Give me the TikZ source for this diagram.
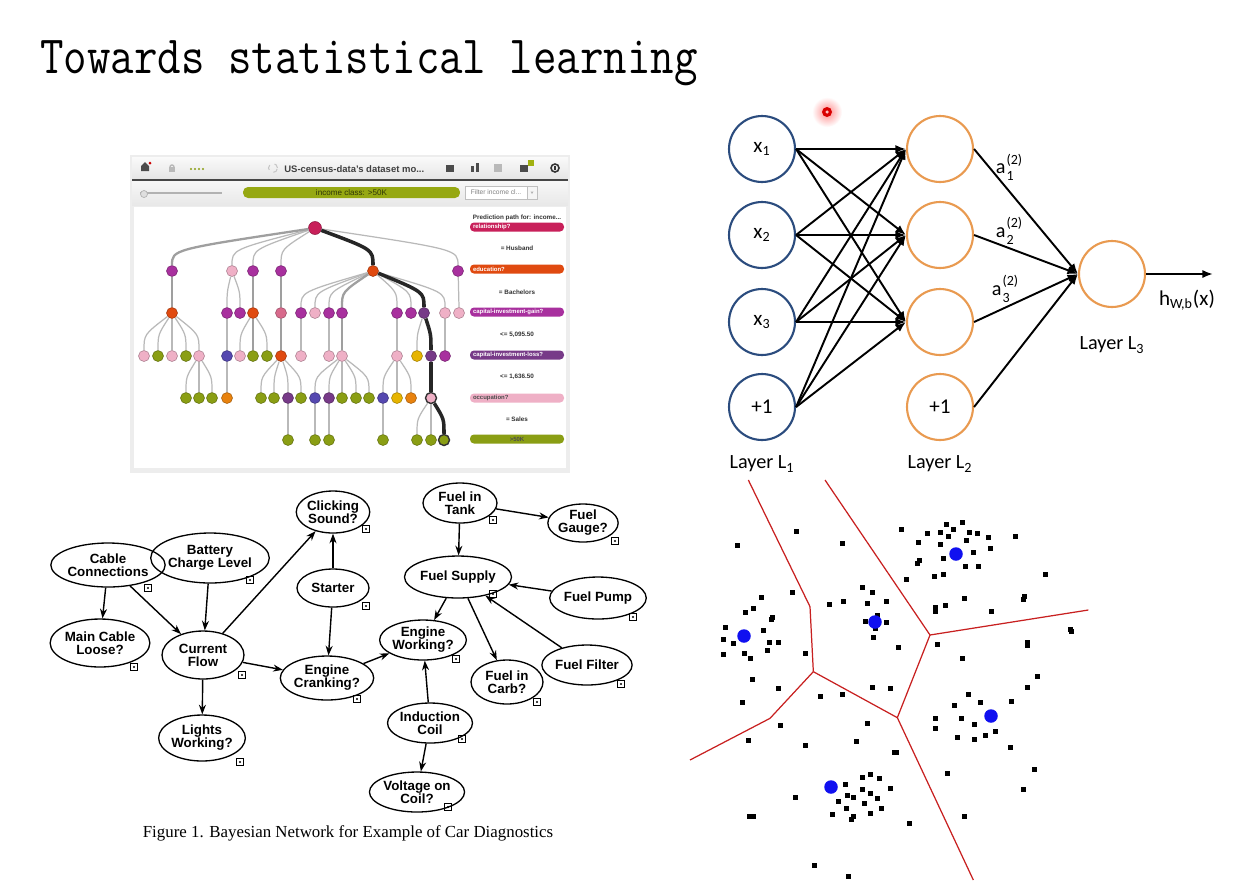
\documentclass[tikz,border=0pt]{standalone}
\usepackage{fontspec}
\setmainfont{Liberation Sans}
\newfontfamily\carl{Carlito}
\newfontfamily\capfont{Liberation Serif}
\usetikzlibrary{arrows.meta,shapes.geometric,calc}

% tree palette
\definecolor{tcrim}{HTML}{C8205A}
\definecolor{tpurp}{HTML}{A8309E}
\definecolor{tpink}{HTML}{EFB0C6}
\definecolor{torng}{HTML}{E04A10}
\definecolor{tolive}{HTML}{8A9E14}
\definecolor{tblue}{HTML}{5548B0}
\definecolor{tdpurp}{HTML}{773A88}
\definecolor{tyell}{HTML}{E6B400}
\definecolor{tamber}{HTML}{E8820E}
\definecolor{trose}{HTML}{D86A8C}
% network palette
\definecolor{nnblue}{HTML}{2B4C7E}
\definecolor{nnorange}{HTML}{E99A50}
% clustering palette
\definecolor{vred}{HTML}{C82020}
\definecolor{vblue}{HTML}{1010F0}

% curved tree branch: leaves the parent, enters the child from above
\newcommand\tedge[3][tline]{\draw[#1] (#2) .. controls ($(#2 -| #3)!0.5!(#3)$) .. (#3);}
% activation label a with stacked (2) and layer index
\newcommand\actlab[1]{a\kern0.6pt\raisebox{-3.6pt}{\fontsize{8}{8}\selectfont\shortstack[l]{(2)\\#1}}}

\begin{document}
\begin{tikzpicture}[x=0.02cm,y=-0.02cm,
  tn/.style={circle, minimum size=0.22cm, inner sep=0pt, fill=#1, draw=#1!70!black, line width=0.3pt},
  tline/.style={draw=gray!55, line width=0.7pt},
  tthick/.style={draw=gray!75, line width=1.3pt},
  tpath/.style={draw=black!85, line width=2pt},
  pill/.style={rectangle, rounded corners=0.08cm, minimum width=1.88cm, minimum height=0.18cm,
    inner sep=0pt, fill=#1, text=white, font=\fontsize{3.4}{3.4}\selectfont\bfseries,
    text width=1.76cm, align=left},
  legtxt/.style={font=\fontsize{3.6}{3.6}\selectfont\bfseries, text=black!80, inner sep=0pt},
  l1node/.style={circle, draw=nnblue, line width=1.2pt, fill=white, minimum size=1.32cm, inner sep=0pt,
    font=\carl\fontsize{12}{12}\selectfont},
  l2node/.style={circle, draw=nnorange, line width=1.2pt, fill=white, minimum size=1.32cm, inner sep=0pt,
    font=\carl\fontsize{12}{12}\selectfont},
  nnlab/.style={font=\carl\fontsize{11.5}{11.5}\selectfont, inner sep=0pt},
  nnarr/.style={line width=1.1pt, -{Latex[length=6pt,width=4.6pt]}},
  bn/.style 2 args={ellipse, draw, line width=0.75pt, minimum width=#1*0.04cm, minimum height=#2*0.04cm,
    inner sep=0pt, align=center, font=\fontsize{7.6}{7.4}\selectfont\bfseries},
  bnbox/.style={rectangle, draw, line width=0.4pt, minimum size=0.13cm, inner sep=0pt,
    path picture={\fill (path picture bounding box.center) circle[radius=0.022cm];}},
  bnarr/.style={line width=0.8pt, -{Stealth[length=5.5pt,width=4pt]}}
]
\useasboundingbox (0,0) rectangle (1260,880);
\fill[white] (0,0) rectangle (1260,880);

% ---------- title ----------
\node[anchor=base west, inner sep=0pt] (title) at (40,73)
  {\scalebox{0.848}[1]{\ttfamily\fontsize{30.6}{32}\selectfont Towards statistical learning}};

% ---------- decision tree viewer ----------
\fill[gray!14] (130,155) rectangle (570,473);
\shade[top color=gray!4, bottom color=gray!20] (132,157) rectangle (568,179);
\draw[gray!55!black, line width=1pt] (132,180) -- (568,180);
\shade[top color=gray!6, bottom color=gray!18] (132,181) rectangle (568,205);
\fill[white] (134,207) rectangle (566,468);
% toolbar glyphs
\fill[gray!60!black] (141,171) -- (141,166) -- (145,162) -- (149,166) -- (149,171) -- cycle;
\fill[red!80!black] (150,163) circle[radius=0.03cm];
\draw[gray!55, line width=0.8pt] (170,167) arc[start angle=180, end angle=0, radius=0.04cm];
\fill[gray!55] (169,167) rectangle (175,172);
\foreach \x in {191,195,199,203} \fill[tolive] (\x,169) circle[radius=0.022cm];
\draw[gray!45, dashed, line width=0.6pt] (273,168) circle[radius=0.09cm];
\node[anchor=west, inner sep=0pt, font=\fontsize{5.4}{5.4}\selectfont\bfseries, text=black!75] (vtitle) at (284,169) {US-census-data's dataset mo...};
\fill[gray!60!black] (446,165) rectangle (454,172);
\fill[gray!60!black] (471,166) rectangle (474,172); \fill[gray!60!black] (476,163) rectangle (479,172);
\fill[gray!55] (494,164) rectangle (502,172);
\fill[gray!60!black] (520,165) rectangle (528,172);
\fill[tolive!80!yellow] (528,160) rectangle (534,166);
\draw[black!80, line width=0.9pt] (555,168) circle[radius=0.08cm];
\fill[black!80] (554,166) rectangle (556,170);
% slider and filter bar
\draw[gray!60, line width=1.2pt] (140,193) -- (222,193);
\filldraw[fill=gray!25, draw=gray!60, line width=0.4pt] (144,194) circle[radius=0.07cm];
\node[rectangle, rounded corners=0.1cm, fill=tolive!90!yellow, minimum width=4.34cm, minimum height=0.22cm,
  inner sep=0pt, font=\fontsize{4.6}{4.6}\selectfont, text=tolive!35!black] (classbar) at (351.5,192.5) {income class: >50K};
\node[rectangle, draw=gray!50, fill=white, minimum width=1.24cm, minimum height=0.26cm, inner sep=0pt,
  font=\fontsize{3.8}{3.8}\selectfont, text=gray] (filter) at (496,192.5) {Filter income cl...};
\node[rectangle, draw=gray!50, fill=gray!8, minimum width=0.2cm, minimum height=0.26cm, inner sep=0pt] (filterbtn) at (532,192.5) {};
\fill[gray!60] (530.5,191.5) -- (533.5,191.5) -- (532,194) -- cycle;

% tree nodes by level
\node[tn=tcrim, minimum size=0.26cm] (root) at (315,228) {};
\foreach \n/\x/\c in {a1/172/tpurp, a2/232/tpink, a3/253/tpurp, a4/281/tpurp, a5/373/torng, a6/458/tpurp}
  \node[tn=\c] (\n) at (\x,271) {};
\foreach \n/\x/\c in {b1/172/torng, b2/227/tpurp, b3/240/tpurp, b4/253/torng, b5/281/trose, b6/301/tpurp,
  b7/315/tpink, b8/329/tpurp, b9/342/tpurp, b10/397/tpurp, b11/411/tpurp, b12/424/tdpurp, b13/445/tpink, b14/459/tpink}
  \node[tn=\c] (\n) at (\x,313) {};
\foreach \n/\x/\c in {c1/144/tpink, c2/158/tolive, c3/172/tpink, c4/186/tolive, c5/199/tpink, c6/227/tblue,
  c7/240/tpink, c8/253/tolive, c9/267/tolive, c10/281/torng, c11/301/tpink, c12/329/tpink, c13/342/tpink,
  c14/397/tpink, c15/417/tyell, c16/431/tdpurp, c17/445/tpurp}
  \node[tn=\c] (\n) at (\x,356) {};
\foreach \n/\x/\c in {d1/186/tolive, d2/199/tolive, d3/212/tolive, d4/227/tamber, d5/261/tolive, d6/274/tolive,
  d7/288/tdpurp, d8/301/tolive, d9/315/tblue, d10/329/tdpurp, d11/342/tolive, d12/356/tolive, d13/369/tolive,
  d14/383/tblue, d15/397/tyell, d16/411/tamber}
  \node[tn=\c] (\n) at (\x,398) {};
\node[tn=tpink, draw=black!80, line width=0.8pt] (d17) at (431,398) {};
\foreach \n/\x in {e1/288, e2/315, e3/329, e4/383, e5/417, e6/431}
  \node[tn=tolive] (\n) at (\x,440) {};
\node[tn=tolive, draw=black!80, line width=0.8pt] (e7) at (444,440) {};

% tree branches
\foreach \p/\c in {root/a2, root/a3, root/a4, root/a6,
  a2/b2, a2/b3, a5/b6, a5/b7, a5/b8, a5/b10, a5/b11, a5/b13, a6/b14,
  b1/c1, b1/c2, b1/c3, b1/c4, b1/c5, b2/c6, b4/c7, b4/c9, b6/c11, b8/c12, b10/c14, b12/c15, b13/c17,
  c5/d1, c5/d2, c5/d3, c6/d4, c10/d5, c10/d6, c10/d7, c10/d8, c13/d9, c13/d10, c13/d11, c13/d12, c13/d13,
  c14/d14, c14/d15, c14/d16,
  d7/e1, d9/e2, d10/e3, d14/e4, d17/e5, d17/e6}
  {\tedge{\p}{\c}}
\foreach \p/\c in {root/a1, a1/b1, a3/b4, b4/c8, a4/b5, b5/c10, a5/b9, b9/c13}
  {\tedge[tthick]{\p}{\c}}
\foreach \p/\c in {root/a5, a5/b12, b12/c16, c16/d17, d17/e7}
  {\tedge[tpath]{\p}{\c}}

% prediction path legend
\node[legtxt] (lg0) at (517,218) {Prediction path for: income...};
\node[pill=tcrim] (lp1) at (517,227) {relationship?};
\node[legtxt] (lv1) at (517,248) {= Husband};
\node[pill=torng] (lp2) at (517,269) {education?};
\node[legtxt] (lv2) at (517,292) {= Bachelors};
\node[pill=tpurp] (lp3) at (517,312) {capital-investment-gain?};
\node[legtxt] (lv3) at (517,335) {<= 5,095.50};
\node[pill=tdpurp] (lp4) at (517,355) {capital-investment-loss?};
\node[legtxt] (lv4) at (517,377) {<= 1,636.50};
\node[pill=tpink, text=black!70] (lp5) at (517,398) {occupation?};
\node[legtxt] (lv5) at (517,419) {= Sales};
\node[pill=tolive, text=black!70, align=center] (lp6) at (517,439) {>50K};

% ---------- neural network ----------
\shade[inner color=red!45, outer color=white] (827,112) circle[radius=0.3cm];
\fill[red!85!black] (827,112) circle[radius=0.1cm];
\fill[red!25] (827,112) circle[radius=0.035cm];

\node[l1node] (x1) at (762,149) {x\textsubscript{1}};
\node[l1node] (x2) at (762,235) {x\textsubscript{2}};
\node[l1node] (x3) at (762,322) {x\textsubscript{3}};
\node[l1node] (b1n) at (762,407) {+1};
\node[l2node] (h1) at (940,149) {};
\node[l2node] (h2) at (940,235) {};
\node[l2node] (h3) at (940,322) {};
\node[l2node] (b2n) at (940,407) {+1};
\node[l2node] (out) at (1112,274) {};
\coordinate (hout) at (1213,274);

\foreach \s in {x1,x2,x3,b1n}
  \foreach \t in {h1,h2,h3}
    \draw[nnarr] (\s.east) -- (\t.west);
\foreach \s in {h1,h2,h3,b2n}
  \draw[nnarr] (\s.east) -- (out.west);
\draw[nnarr] (out.east) -- (hout);

\node[nnlab] (lab1) at (1009,167) {\actlab{1}};
\node[nnlab] (lab2) at (1009,231) {\actlab{2}};
\node[nnlab] (lab3) at (1005,289) {\actlab{3}};
\node[nnlab, font=\carl\fontsize{12}{12}\selectfont] (hlab) at (1187,300) {h\textsubscript{W,b}(x)};
\node[nnlab] (L1) at (762,464) {Layer L\textsubscript{1}};
\node[nnlab] (L2) at (940,464) {Layer L\textsubscript{2}};
\node[nnlab] (L3) at (1112,345) {Layer L\textsubscript{3}};

% ---------- Bayesian network ----------
\node[bn={43}{22}] (cc) at (108,565) {Cable\\Connections};
\node[bn={42}{25}] (bcl) at (210,558) {Battery\\Charge Level};
\node[bn={36}{21}] (cs) at (333,512) {Clicking\\Sound?};
\node[bn={36}{19}] (st) at (333,588) {Starter};
\node[bn={39}{24}] (mcl) at (100,643) {Main Cable\\Loose?};
\node[bn={41}{24}] (cf) at (203,655) {Current\\Flow};
\node[bn={36}{22}] (ec) at (327,678) {Engine\\Cranking?};
\node[bn={42}{23}] (lw) at (202,738) {Lights\\Working?};
\node[bn={37}{20}] (ic) at (430,723) {Induction\\Coil};
\node[bn={37}{20}] (vc) at (417,792) {Voltage on\\Coil?};
\node[bn={36}{22}] (fic) at (507,682) {Fuel in\\Carb?};
\node[bn={37}{20}] (ft) at (460,503) {Fuel in\\Tank};
\node[bn={35}{19}] (fg) at (583,523) {Fuel\\Gauge?};
\node[bn={39}{21}] (fs) at (458,577) {Fuel Supply};
\node[bn={39}{21}] (fp) at (598,598) {Fuel Pump};
\node[bn={36}{20}] (ew) at (423,640) {Engine\\Working?};
\node[bn={37}{20}] (ff) at (587,665) {Fuel Filter};

% state boxes beside each variable
\foreach \n/\x/\y in {q1/148/588, q2/250/580, q3/366/529, q4/366/606, q5/134/667, q6/242/675, q7/357/699,
  q8/240/762, q9/462/739, q10/448/807, q11/537/702, q12/493/520, q13/615/541, q14/493/594, q15/633/617,
  q16/456/659, q17/621/684}
  \node[bnbox] (\n) at (\x,\y) {};

\foreach \s/\t in {cc/mcl, cc/cf, bcl/cf, cf/cs, st/cs, st/ec, cf/ec, cf/lw, ec/ew, ic/ew, ic/vc,
  ft/fg, ft/fs, fp/fs, ff/fs, fs/ew, fs/fic}
  \draw[bnarr] (\s) -- (\t);

\node[font=\capfont\fontsize{9.6}{9.6}\selectfont, inner sep=0pt] (caption) at (348,833)
  {Figure 1. Bayesian Network for Example of Car Diagnostics};

% ---------- clustering ----------
\begin{scope}[shift={(690,480)}, scale=0.333333]
  \draw[vred, line width=0.7pt] (175,0) -- (360,380) -- (370,575);
  \draw[vred, line width=0.7pt] (405,0) -- (720,465);
  \draw[vred, line width=0.7pt] (720,465) -- (1195,390);
  \draw[vred, line width=0.7pt] (720,465) -- (622,713);
  \draw[vred, line width=0.7pt] (370,575) -- (622,713);
  \draw[vred, line width=0.7pt] (370,575) -- (240,715) -- (0,840);
  \draw[vred, line width=0.7pt] (622,713) -- (850,1200);
  \foreach \x/\y in {318/153, 143/197, 456/189, 635/148, 712/161, 770/132, 818/128, 790/148, 752/157, 774/169,
    838/157, 862/161, 896/173, 976/169, 684/186, 752/193, 828/181, 850/218, 900/206, 760/234, 688/242, 683/250,
    826/259, 866/259, 734/288, 761/284, 648/299, 1066/284, 516/323, 548/336, 308/336, 214/353, 190/385, 166/397,
    246/412, 243/417, 418/373, 459/365, 532/369, 590/365, 822/354, 766/377, 736/383, 736/395, 904/394, 1004/349,
    1000/357, 563/405, 527/425, 590/427, 557/445, 549/473, 105/442, 219/451, 99/479, 129/491, 239/487, 264/487,
    231/512, 101/523, 163/519, 182/536, 345/519, 624/501, 1140/447, 1145/455, 741/494, 1013/487, 1013/497,
    818/536, 1041/590, 1013/622, 187/597, 264/626, 548/622, 602/626, 456/642, 391/650, 835/642, 793/675, 871/666,
    964/664, 736/715, 736/744, 814/715, 854/732, 916/753, 886/765, 801/772, 854/777, 960/801, 272/736, 533/730,
    174/780, 346/797, 500/785, 612/818, 620/818, 157/666, 773/880, 1033/867, 1001/928, 822/1010, 516/892, 541/883,
    569/895, 466/912, 516/928, 602/924, 472/945, 490/952, 541/941, 563/955, 444/965, 524/969, 574/985, 470/985,
    541/1000, 490/1010, 484/1018, 427/1004, 315/952, 178/1010, 190/1010, 658/1030, 373/1155, 476/1190}
    \fill ({\x-7.5},{\y-7.5}) rectangle +(15,15);
\end{scope}
\foreach \x/\y in {956/554, 875/622, 744/636, 991/716, 831/787}
  \fill[vblue] (\x,\y) circle[radius=0.135cm];

\end{tikzpicture}
\end{document}
